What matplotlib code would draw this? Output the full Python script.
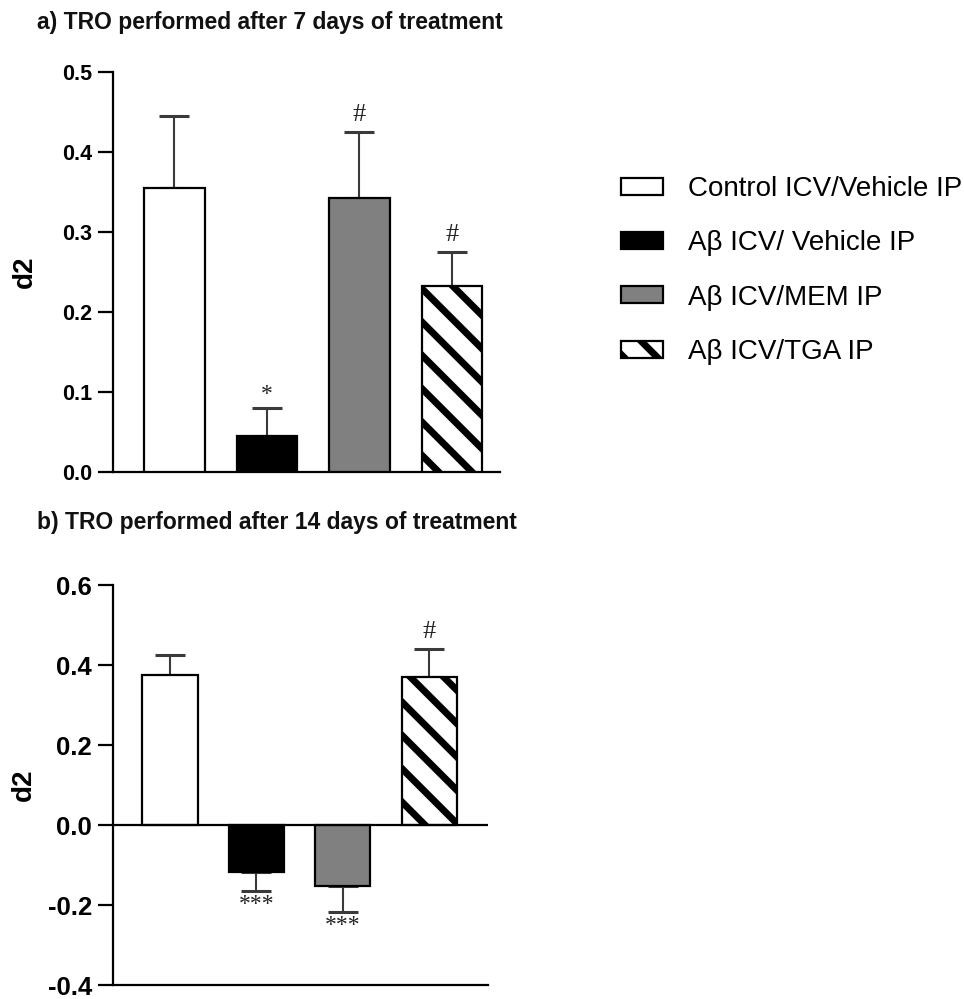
import matplotlib
matplotlib.use("Agg")
import matplotlib.pyplot as plt
from matplotlib.ticker import FormatStrFormatter

plt.rcParams['font.family'] = ['Liberation Sans', 'DejaVu Sans']
plt.rcParams['axes.unicode_minus'] = False
plt.rcParams['hatch.linewidth'] = 5.0

# data
groups = ["Control ICV/Vehicle IP", "Aβ ICV/ Vehicle IP", "Aβ ICV/MEM IP", "Aβ ICV/TGA IP"]
d2_day7 = [0.355, 0.045, 0.3425, 0.2325]
sem_day7 = [0.090, 0.035, 0.0825, 0.0425]
mark_day7 = ["", "*", "#", "#"]
d2_day14 = [0.375, -0.1175, -0.1525, 0.370]
sem_day14 = [0.050, 0.0475, 0.065, 0.070]
mark_day14 = ["", "***", "***", "#"]

colors = ["white", "black", "#808080", "white"]
hatches = [None, None, None, "\\"]

fig = plt.figure(figsize=(9.64, 9.99), dpi=100)
ax1 = fig.add_axes([0.1172, 0.5275, 0.4015, 0.4004])
ax2 = fig.add_axes([0.1172, 0.014, 0.389, 0.4004])


def draw(ax, vals, sems, marks, width):
    x = range(len(vals))
    bars = ax.bar(x, vals, width=width, color=colors, edgecolor="black",
                  linewidth=1.6, zorder=3)
    for b, h in zip(bars, hatches):
        if h:
            b.set_hatch(h)
    for i, (v, s, m) in enumerate(zip(vals, sems, marks)):
        sign = 1 if v >= 0 else -1
        lo, hi = ([0], [s]) if sign > 0 else ([s], [0])
        ax.errorbar(i, v, yerr=[lo, hi], fmt="none", ecolor="#3a3a3a",
                    elinewidth=1.5, capsize=11, capthick=2.2, zorder=2)
        if m:
            if m == "#":
                ax.annotate(m, (i, v + sign * s), xytext=(0, 4), textcoords="offset points",
                            ha="center", va="bottom", fontsize=19, family="Liberation Serif",
                            color="#222222")
            else:
                off = 2 if sign > 0 else -2
                ax.annotate(m, (i, v + sign * s), xytext=(0, off), textcoords="offset points",
                            ha="center", va="bottom" if sign > 0 else "top",
                            fontsize=17, family="Liberation Serif", color="#222222")
    for side in ["top", "right"]:
        ax.spines[side].set_visible(False)
    for side in ["left", "bottom"]:
        ax.spines[side].set_linewidth(1.6)
    ax.set_xticks([])
    ax.tick_params(axis="y", length=11, width=1.6, pad=4)
    ax.yaxis.set_major_formatter(FormatStrFormatter("%.1f"))
    return bars


bars = draw(ax1, d2_day7, sem_day7, mark_day7, 0.65)
ax1.set_xlim(-0.665, 3.52)
ax1.set_ylim(0, 0.5)
ax1.set_yticks([0.0, 0.1, 0.2, 0.3, 0.4, 0.5])
for t in ax1.get_yticklabels():
    t.set_fontsize(15.5)
    t.set_fontweight("bold")
ax1.set_ylabel("d2", fontsize=20, fontweight="bold")
ax1.yaxis.set_label_coords(-0.194, 0.5)

draw(ax2, d2_day14, sem_day14, mark_day14, 0.64)
ax2.axhline(0, color="black", linewidth=1.6, zorder=4)
ax2.set_xlim(-0.66, 3.68)
ax2.set_ylim(-0.4, 0.6)
ax2.set_yticks([-0.4, -0.2, 0.0, 0.2, 0.4, 0.6])
for t in ax2.get_yticklabels():
    t.set_fontsize(18.5)
    t.set_fontweight("bold")
ax2.set_ylabel("d2", fontsize=20, fontweight="bold")
ax2.yaxis.set_label_coords(-0.203, 0.5)

fig.text(37 / 964, 1 - 22 / 999, "a) TRO performed after 7 days of treatment",
         fontsize=16.5, fontweight="bold", va="center", ha="left", color="#111111")
fig.text(37 / 964, 1 - 523 / 999, "b) TRO performed after 14 days of treatment",
         fontsize=16.5, fontweight="bold", va="center", ha="left", color="#111111")

fig.legend(bars, groups, loc="upper left", bbox_to_anchor=(621 / 964, 1 - 176 / 999),
           frameon=False, fontsize=20, handlelength=1.5, handleheight=0.55,
           handletextpad=0.9, labelspacing=1.02, borderpad=0, borderaxespad=0)

fig.savefig("out.png", dpi=100)
